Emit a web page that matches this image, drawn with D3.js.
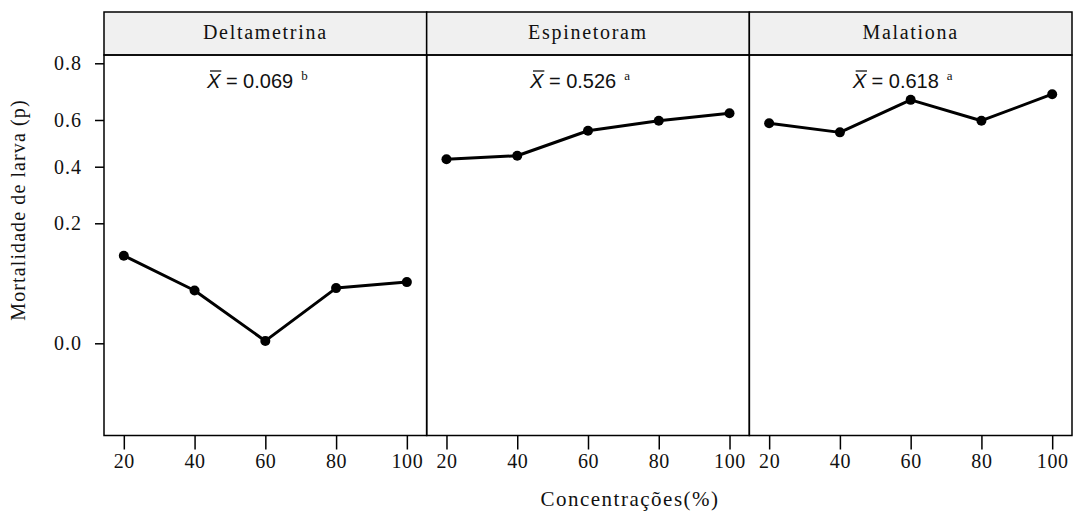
<!DOCTYPE html>
<html>
<head>
<meta charset="utf-8">
<script src="https://cdn.jsdelivr.net/npm/d3@7"></script>
<style>
  html, body { margin: 0; padding: 0; background: #fff; }
  svg { display: block; }
</style>
</head>
<body>
<svg id="chart" width="1073" height="515"></svg>
<script>
// Larval mortality by insecticide and concentration
const panels = ["Deltametrina", "Espinetoram", "Malationa"];
const concentrations = [20, 40, 60, 80, 100];
const deltametrina = [0.146, 0.088, 0.004, 0.092, 0.102];
const espinetoram = [0.432, 0.447, 0.554, 0.597, 0.624];
const malationa = [0.586, 0.547, 0.671, 0.597, 0.691];
const means = ["0.069", "0.526", "0.618"];
const meanGroups = ["b", "a", "a"];
const yTicks = [0, 0.2, 0.4, 0.6, 0.8];
const yTickLabels = ["0.0", "0.2", "0.4", "0.6", "0.8"];
const xTicks = [20, 40, 60, 80, 100];
const seriesValues = [deltametrina, espinetoram, malationa];

const svg = d3.select("#chart");
const left = 104, right = 1072;
const stripTop = 12, stripBottom = 55, panelBottom = 435.5;
const panelW = (right - left) / panels.length;
const panelH = panelBottom - stripBottom;

const serif = "'Liberation Serif', 'Times New Roman', serif";
const sans = "'Liberation Sans', Arial, sans-serif";
const ink = "#111";

// x: concentration within each panel, padded on both sides
const x = d3.scaleLinear().domain([14.4, 105.6]).range([0, panelW]);
// y: mortality on the axis' own (non-uniform) spacing
const y = d3.scaleLinear()
  .domain(yTicks)
  .range([0.7577, 0.4423, 0.2936, 0.1708, 0.0218].map(f => stripBottom + f * panelH));

const line = d3.line()
  .x(d => x(d[0]))
  .y(d => y(d[1]));

panels.forEach((name, i) => {
  const g = svg.append("g").attr("transform", `translate(${left + i * panelW},0)`);

  // strip
  g.append("rect")
    .attr("x", 0).attr("y", stripTop)
    .attr("width", panelW).attr("height", stripBottom - stripTop)
    .attr("fill", "#f0f0f0").attr("stroke", "#000").attr("stroke-width", 1.5);
  g.append("text")
    .attr("x", panelW / 2).attr("y", stripTop + 27)
    .attr("text-anchor", "middle")
    .attr("font-family", serif).attr("font-size", 20)
    .attr("letter-spacing", 1.7).attr("fill", ink)
    .text(name);

  // panel frame
  g.append("rect")
    .attr("x", 0).attr("y", stripBottom)
    .attr("width", panelW).attr("height", panelH)
    .attr("fill", "none").attr("stroke", "#000").attr("stroke-width", 1.5);

  // x axis
  const xa = g.append("g").attr("transform", `translate(0,${panelBottom})`)
    .call(d3.axisBottom(x).tickValues(xTicks).tickSize(14).tickPadding(4).tickFormat(d3.format("d")));
  xa.select(".domain").remove();
  xa.selectAll("line").attr("stroke", "#000").attr("stroke-width", 1.5);
  xa.selectAll("text")
    .attr("font-family", serif).attr("font-size", 20).attr("fill", ink)
    .attr("letter-spacing", 0.6);

  // series
  const pts = concentrations.map((c, k) => [c, seriesValues[i][k]]);
  g.append("path")
    .datum(pts)
    .attr("d", line)
    .attr("fill", "none").attr("stroke", "#000")
    .attr("stroke-width", 3).attr("stroke-linejoin", "round");
  g.selectAll("circle.pt").data(pts).join("circle")
    .attr("class", "pt")
    .attr("cx", d => x(d[0])).attr("cy", d => y(d[1]))
    .attr("r", 5).attr("fill", "#000");

  // mean annotation: X-bar = value, group letter raised
  const lab = g.append("g").attr("fill", ink);
  const xs = lab.append("text")
    .attr("font-family", sans).attr("font-size", 20).attr("font-style", "italic")
    .text("X");
  const eq = lab.append("text")
    .attr("font-family", sans).attr("font-size", 20)
    .attr("xml:space", "preserve")
    .text(" = " + means[i]);
  const sup = lab.append("text")
    .attr("font-family", serif).attr("font-size", 13)
    .text(meanGroups[i]);
  const wX = xs.node().getComputedTextLength();
  const wE = eq.node().getComputedTextLength();
  const wS = sup.node().getComputedTextLength();
  const gap = 8;
  const total = wX + wE + gap + wS;
  const x0 = panelW / 2 - total / 2 - 8;
  const base = 88;
  xs.attr("x", x0).attr("y", base);
  eq.attr("x", x0 + wX).attr("y", base);
  sup.attr("x", x0 + wX + wE + gap).attr("y", base - 8);
  lab.append("line")
    .attr("x1", x0 + 3).attr("x2", x0 + wX + 1)
    .attr("y1", base - 17).attr("y2", base - 17)
    .attr("stroke", ink).attr("stroke-width", 1.3);
});

// y axis on the first panel
const ya = svg.append("g").attr("transform", `translate(${left},0)`)
  .call(d3.axisLeft(y).tickValues(yTicks).tickSize(9).tickPadding(13)
    .tickFormat((d, k) => yTickLabels[k]));
ya.select(".domain").remove();
ya.selectAll("line").attr("stroke", "#000").attr("stroke-width", 1.5);
ya.selectAll("text")
  .attr("font-family", serif).attr("font-size", 20).attr("fill", ink)
  .attr("letter-spacing", 1);

// axis titles
svg.append("text")
  .attr("x", 630).attr("y", 506)
  .attr("text-anchor", "middle")
  .attr("font-family", serif).attr("font-size", 21)
  .attr("letter-spacing", 1.5).attr("fill", ink)
  .text("Concentrações(%)");

svg.append("text")
  .attr("transform", "translate(25,210) rotate(-90)")
  .attr("text-anchor", "middle")
  .attr("font-family", serif).attr("font-size", 20)
  .attr("letter-spacing", 1.1).attr("fill", ink)
  .text("Mortalidade de larva (p)");
</script>
</body>
</html>
